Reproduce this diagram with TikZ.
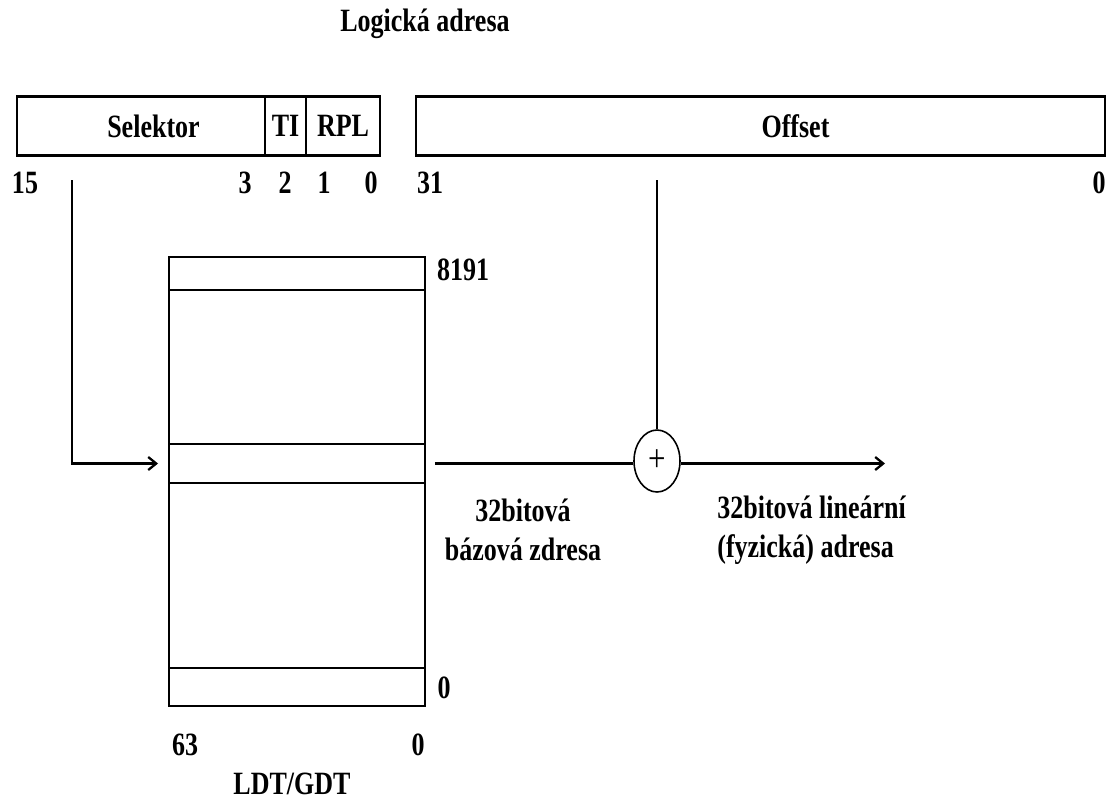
\documentclass[tikz,border=0pt]{standalone}
\usepackage{fontspec}
\setmainfont{Liberation Serif}[FakeStretch=0.8]
\usetikzlibrary{shapes.geometric, arrows.meta, positioning}

\begin{document}
\begin{tikzpicture}[
    x=0.02cm, y=-0.02cm,
    font=\fontsize{18.5}{22}\selectfont\bfseries,
    field/.style={rectangle, draw=black, line width=1.3pt, inner sep=0pt,
                  outer sep=0pt, minimum height=1.18cm},
    row/.style={rectangle, draw=black, line width=1.3pt, inner sep=0pt,
                outer sep=0pt, minimum width=5.12cm},
    bitnum/.style={inner sep=0pt},
    caption/.style={inner sep=0pt, align=center},
    sumnode/.style={ellipse, draw=black, line width=0.9pt, inner sep=0pt,
                    minimum width=0.92cm, minimum height=1.24cm,
                    font=\fontsize{22}{22}\selectfont\mdseries},
    line/.style={line width=1.3pt},
    arr/.style={line width=1.3pt, -{Straight Barb[length=1.6mm, width=2.6mm, line width=1.3pt]}}
]
\useasboundingbox (0,0) rectangle (1109,802);

%% ── Logical address ──
\node[caption] (title) at (425,24) {Logická adresa};
\node[field, minimum width=4.96cm] (SEL) at (141,126) {\hspace{0.5cm}Selektor};
\node[field, minimum width=0.82cm] (TI)  at (285.5,126) {TI};
\node[field, minimum width=1.48cm] (RPL) at (343,126) {RPL};
\node[field, minimum width=13.78cm,
      label={[xshift=0.7cm]center:Offset}] (OFF) at (760.5,126) {};

%% ── Bit numbers ──
\node[bitnum] (b15) at (25,183)   {15};
\node[bitnum] (b3)  at (245,183)  {3};
\node[bitnum] (b2)  at (285,183)  {2};
\node[bitnum] (b1)  at (324,183)  {1};
\node[bitnum] (b0)  at (371,183)  {0};
\node[bitnum] (o31) at (430,183)  {31};
\node[bitnum] (o0)  at (1099,183) {0};

%% ── Descriptor table ──
\node[row, minimum height=0.66cm] (R8191) at (297,273.5) {};
\node[row, minimum height=3.08cm] (RA)    at (297,367)   {};
\node[row, minimum height=0.78cm] (RSEL)  at (297,463.5) {};
\node[row, minimum height=3.70cm] (RB)    at (297,575.5) {};
\node[row, minimum height=0.76cm] (R0)    at (297,687)   {};

\node[bitnum] (n8191) at (463,270) {8191};
\node[bitnum] (nzero) at (444,688) {0};
\node[bitnum] (t63)   at (185,745) {63};
\node[bitnum] (t0)    at (418,745) {0};
\node[caption] (tname) at (292,784) {LDT/GDT};

%% ── Adder ──
\node[sumnode] (SUM) at (657,461) {+};

\node[caption] (base) at (523,530) {32bitová\\bázová zdresa};
\node[caption, anchor=west, align=left] (lin) at (717,530)
     {32bitová lineární\\(fyzická) adresa};

%% ── Connectors ──
\coordinate (selout) at (72,180);
\coordinate (offout) at (657,180);
\coordinate (linend) at (885,463.5);

\draw[arr]  (selout) |- ([xshift=-0.22cm]RSEL.west);
\draw[line] ([xshift=0.2cm]RSEL.east) -- (SUM.west |- RSEL.east);
\draw[line] (offout) -- (SUM.north);
\draw[arr]  (SUM.east |- RSEL.east) -- (linend);

\end{tikzpicture}
\end{document}
